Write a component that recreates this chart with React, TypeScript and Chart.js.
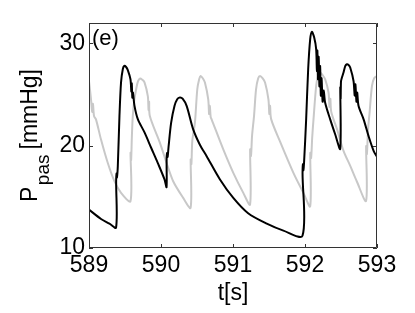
import React, { useEffect, useRef } from "react";
import { Chart, registerables } from "chart.js";

Chart.register(...registerables);

const xTicks = [589, 590, 591, 592, 593];
const yTicks = [10, 20, 30];

const blackT = [
  589.0, 589.167, 589.284, 589.376, 589.377, 589.383, 589.388, 589.4, 589.423, 589.445,
  589.47, 589.49, 589.515, 589.539, 589.576, 589.588, 589.594, 589.602, 589.61, 589.632,
  589.678, 589.771, 589.863, 589.956, 590.049, 590.077, 590.078, 590.085, 590.092, 590.105,
  590.141, 590.188, 590.225, 590.262, 590.3, 590.356, 590.447, 590.54, 590.634, 590.819,
  591.004, 591.21, 591.469, 591.7, 591.965, 591.966, 591.972, 591.978, 591.988, 592.016,
  592.044, 592.072, 592.095, 592.127, 592.155, 592.165, 592.172, 592.18, 592.19, 592.2,
  592.21, 592.22, 592.23, 592.245, 592.26, 592.28, 592.35, 592.42, 592.489, 592.49,
  592.495, 592.5, 592.51, 592.535, 592.56, 592.582, 592.605, 592.628, 592.674, 592.69,
  592.7, 592.715, 592.725, 592.744, 592.814, 592.883, 592.953, 593.0,
];
const blackP = [
  13.75, 12.84, 12.38, 12.0, 16.5, 17.3, 16.9, 18.0, 22.9, 26.2,
  27.5, 27.8, 27.7, 27.4, 26.5, 25.3, 26.1, 24.7, 25.2, 23.9,
  22.6, 21.3, 19.8, 18.3, 16.7, 15.95, 18.6, 19.3, 18.9, 19.9,
  22.25, 23.9, 24.55, 24.72, 24.6, 23.9, 21.6, 20.1, 18.98, 16.7,
  14.9, 13.4, 12.38, 11.7, 11.2, 17.35, 18.2, 17.6, 18.5, 22.58,
  27.48, 30.42, 31.14, 30.6, 29.44, 27.3, 29.3, 26.5, 28.7, 25.8,
  27.8, 24.9, 26.6, 24.3, 25.4, 24.2, 22.58, 21.1, 19.7, 25.7,
  24.6, 26.3, 26.6, 27.16, 27.8, 27.97, 27.9, 27.65, 26.33, 24.9,
  26.0, 24.3, 25.2, 23.88, 22.58, 20.94, 19.5, 18.9,
];

const greyT = [
  589.0, 589.028, 589.045, 589.055, 589.07, 589.097, 589.167, 589.26, 589.353, 589.445,
  589.576, 589.577, 589.585, 589.595, 589.608, 589.63, 589.654, 589.68, 589.71, 589.74,
  589.771, 589.817, 589.827, 589.835, 589.845, 589.984, 590.077, 590.169, 590.308, 590.411,
  590.412, 590.422, 590.435, 590.471, 590.504, 590.53, 590.55, 590.58, 590.61, 590.656,
  590.668, 590.678, 590.69, 590.703, 590.865, 591.004, 591.143, 591.237, 591.238, 591.25,
  591.265, 591.292, 591.32, 591.35, 591.376, 591.41, 591.445, 591.492, 591.505, 591.515,
  591.53, 591.654, 591.839, 591.978, 592.072, 592.073, 592.085, 592.1, 592.118, 592.155,
  592.18, 592.21, 592.245, 592.28, 592.327, 592.34, 592.352, 592.365, 592.45, 592.535,
  592.63, 592.72, 592.848, 592.849, 592.86, 592.875, 592.897, 592.93, 592.96, 593.0,
];
const greyP = [
  26.33, 24.54, 23.3, 24.1, 22.9, 22.58, 20.6, 18.33, 16.53, 15.39,
  14.57, 19.3, 18.6, 20.8, 22.9, 24.5, 25.5, 26.3, 26.57, 26.45,
  26.2, 24.86, 23.5, 24.3, 22.9, 20.3, 18.33, 16.53, 14.9, 13.92,
  18.66, 18.2, 20.5, 22.25, 25.52, 26.5, 26.82, 26.6, 26.18, 24.54,
  23.1, 23.9, 22.8, 22.58, 19.64, 17.35, 15.39, 14.25, 19.64, 19.0,
  21.0, 22.9, 25.52, 26.6, 26.82, 26.6, 26.18, 24.54, 23.1, 23.9,
  22.6, 20.4, 17.35, 15.39, 14.08, 19.3, 18.8, 20.8, 22.58, 25.84,
  26.8, 27.16, 26.9, 26.5, 25.2, 23.8, 24.6, 23.3, 21.5, 19.5,
  18.0, 16.5, 14.6, 19.96, 19.2, 21.5, 23.24, 25.84, 26.6, 26.82,
];

const FONT = "'Liberation Sans', Arial, Helvetica, sans-serif";

const framePlugin = {
  id: "frameAndText",
  afterDraw(chart: any) {
    const { ctx, chartArea } = chart;
    const xs = chart.scales.x;
    const ys = chart.scales.y;
    const l = chartArea.left, r = chartArea.right, t = chartArea.top, b = chartArea.bottom;
    ctx.save();
    ctx.strokeStyle = "#333";
    ctx.lineWidth = 1;
    ctx.beginPath();
    ctx.rect(l + 0.5, t + 0.5, r - l - 1, b - t - 1);
    ctx.stroke();
    const tl = 4;
    ctx.beginPath();
    xTicks.forEach((v) => {
      const px = Math.round(xs.getPixelForValue(v)) + 0.5;
      ctx.moveTo(px, b);
      ctx.lineTo(px, b - tl);
      ctx.moveTo(px, t);
      ctx.lineTo(px, t + tl);
    });
    yTicks.forEach((v) => {
      const py = Math.round(ys.getPixelForValue(v)) + 0.5;
      ctx.moveTo(l, py);
      ctx.lineTo(l + tl, py);
      ctx.moveTo(r, py);
      ctx.lineTo(r - tl, py);
    });
    ctx.stroke();

    ctx.fillStyle = "#000";
    ctx.font = `22px ${FONT}`;
    ctx.textAlign = "left";
    ctx.textBaseline = "alphabetic";
    ctx.fillText("(e)", l + 3, t + 22);

    ctx.font = `23px ${FONT}`;
    ctx.textAlign = "center";
    ctx.fillText("t[s]", (l + r) / 2, 300);

    ctx.save();
    ctx.translate(37, 0);
    ctx.rotate(-Math.PI / 2);
    ctx.textAlign = "left";
    const main = `23px ${FONT}`;
    const sub = `19px ${FONT}`;
    ctx.font = main;
    const wP = ctx.measureText("P").width;
    const wU = ctx.measureText("[mmHg]").width;
    ctx.font = sub;
    const wS = ctx.measureText("pas").width;
    const gap1 = 1.5, gap2 = 5;
    const total = wP + gap1 + wS + gap2 + wU;
    const cy = (t + b) / 2;
    let u = -(cy + total / 2);
    ctx.font = main;
    ctx.fillText("P", u, 0);
    u += wP + gap1;
    ctx.font = sub;
    ctx.fillText("pas", u, 12);
    u += wS + gap2;
    ctx.font = main;
    ctx.fillText("[mmHg]", u, 0);
    ctx.restore();
    ctx.restore();
  },
};

export default function App() {
  const ref = useRef<HTMLCanvasElement | null>(null);
  useEffect(() => {
    document.body.style.margin = "0";
    if (!ref.current) return;
    const black = blackT.map((x, i) => ({ x, y: blackP[i] }));
    const grey = greyT.map((x, i) => ({ x, y: greyP[i] }));
    const chart = new Chart(ref.current, {
      type: "line",
      data: {
        datasets: [
          {
            data: black,
            borderColor: "#000",
            borderWidth: 2,
            pointRadius: 0,
            tension: 0.3,
            fill: false,
          },
          {
            data: grey,
            borderColor: "#c8c8c8",
            borderWidth: 2,
            pointRadius: 0,
            tension: 0.3,
            fill: false,
          },
        ],
      },
      options: {
        animation: false,
        responsive: true,
        maintainAspectRatio: false,
        parsing: false as any,
        layout: { padding: { left: 0, right: 38, top: 23, bottom: 0 } },
        plugins: { legend: { display: false }, tooltip: { enabled: false } },
        scales: {
          x: {
            type: "linear",
            min: 589,
            max: 593,
            grid: { display: false, drawTicks: false },
            border: { display: false },
            afterBuildTicks: (s: any) => {
              s.ticks = xTicks.map((v) => ({ value: v }));
            },
            afterFit: (s: any) => {
              s.height = 65;
            },
            ticks: {
              color: "#000",
              font: { family: FONT, size: 23 },
              padding: 4,
              maxRotation: 0,
              autoSkip: false,
              callback: (v: any) => String(v),
            },
          },
          y: {
            type: "linear",
            min: 10,
            max: 32,
            grid: { display: false, drawTicks: false },
            border: { display: false },
            afterBuildTicks: (s: any) => {
              s.ticks = yTicks.map((v) => ({ value: v }));
            },
            afterFit: (s: any) => {
              s.width = 89;
            },
            ticks: {
              color: "#000",
              font: { family: FONT, size: 23 },
              padding: 4,
              autoSkip: false,
              callback: (v: any) => String(v),
            },
          },
        },
      },
      plugins: [framePlugin],
    });
    return () => chart.destroy();
  }, []);
  return (
    <div style={{ position: "absolute", left: 0, top: 0, width: 415, height: 313 }}>
      <canvas ref={ref} />
    </div>
  );
}
